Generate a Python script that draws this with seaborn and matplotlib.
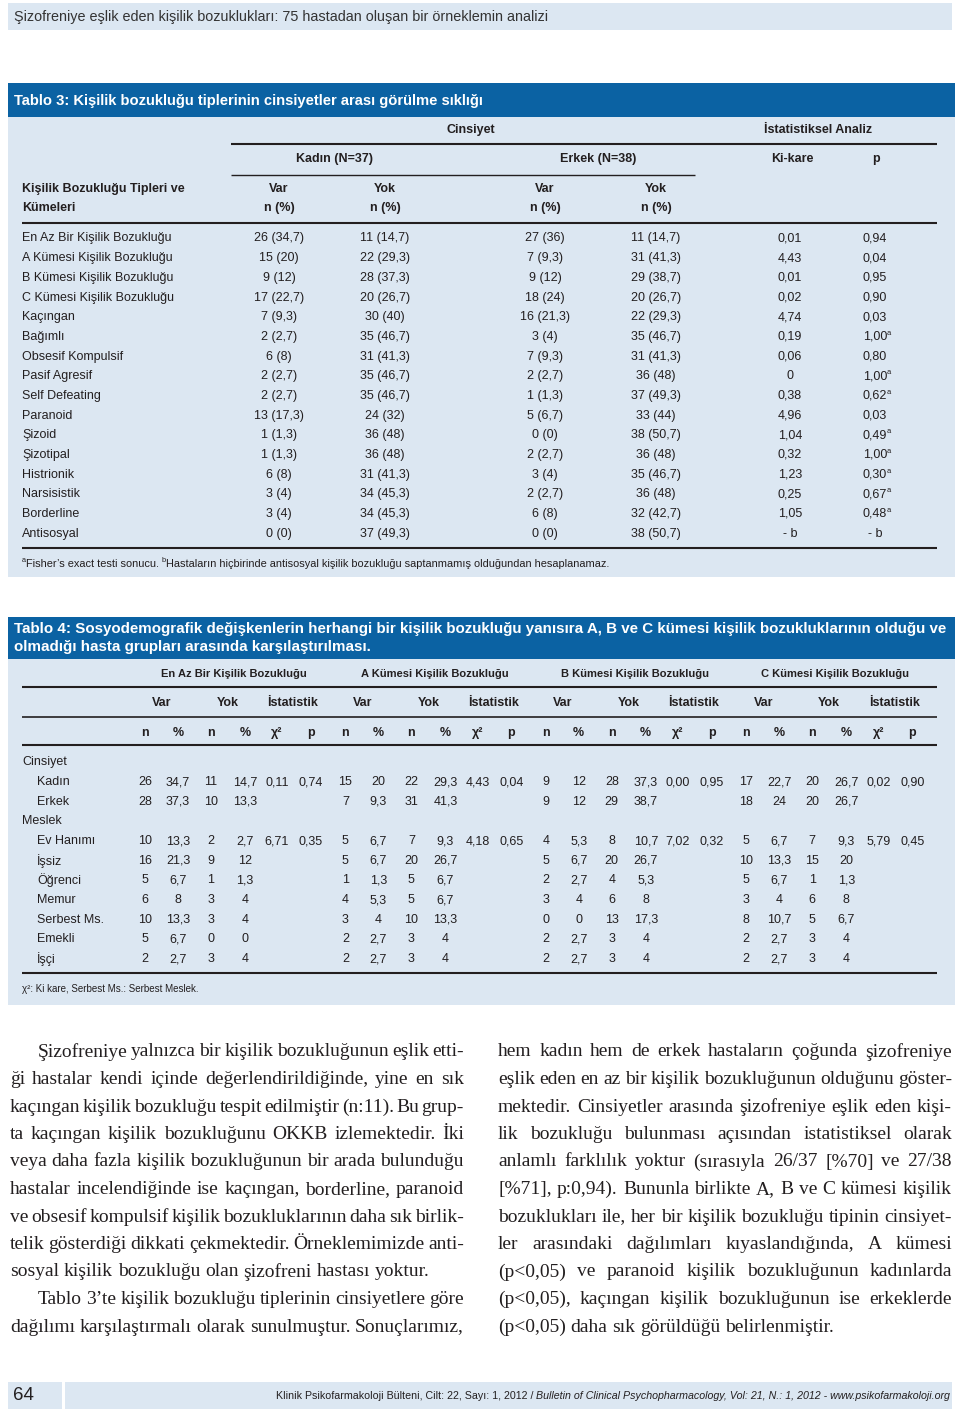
import matplotlib
matplotlib.use("Agg")
import matplotlib.pyplot as plt
import seaborn as sns
import pandas as pd
from matplotlib import font_manager
from matplotlib.patches import Rectangle

# ---- Tablo 3 data ----
t3_types = ["En Az Bir Kişilik Bozukluğu", "A Kümesi Kişilik Bozukluğu", "B Kümesi Kişilik Bozukluğu",
            "C Kümesi Kişilik Bozukluğu", "Kaçıngan", "Bağımlı", "Obsesif Kompulsif", "Pasif Agresif",
            "Self Defeating", "Paranoid", "Şizoid", "Şizotipal", "Histrionik", "Narsisistik",
            "Borderline", "Antisosyal"]
kadin_var_n = [26, 15, 9, 17, 7, 2, 6, 2, 2, 13, 1, 1, 6, 3, 3, 0]
kadin_var_pct = [34.7, 20, 12, 22.7, 9.3, 2.7, 8, 2.7, 2.7, 17.3, 1.3, 1.3, 8, 4, 4, 0]
kadin_yok_n = [11, 22, 28, 20, 30, 35, 31, 35, 35, 24, 36, 36, 31, 34, 34, 37]
kadin_yok_pct = [14.7, 29.3, 37.3, 26.7, 40, 46.7, 41.3, 46.7, 46.7, 32, 48, 48, 41.3, 45.3, 45.3, 49.3]
erkek_var_n = [27, 7, 9, 18, 16, 3, 7, 2, 1, 5, 0, 2, 3, 2, 6, 0]
erkek_var_pct = [36, 9.3, 12, 24, 21.3, 4, 9.3, 2.7, 1.3, 6.7, 0, 2.7, 4, 2.7, 8, 0]
erkek_yok_n = [11, 31, 29, 20, 22, 35, 31, 36, 37, 33, 38, 36, 35, 36, 32, 38]
erkek_yok_pct = [14.7, 41.3, 38.7, 26.7, 29.3, 46.7, 41.3, 48, 49.3, 44, 50.7, 48, 46.7, 48, 42.7, 50.7]
t3_kikare = ["0,01", "4,43", "0,01", "0,02", "4,74", "0,19", "0,06", "0", "0,38", "4,96",
             "1,04", "0,32", "1,23", "0,25", "1,05", "- b"]
t3_p = ["0,94", "0,04", "0,95", "0,90", "0,03", "1,00", "0,80", "1,00", "0,62", "0,03",
        "0,49", "1,00", "0,30", "0,67", "0,48", "- b"]
t3_fisher = [False, False, False, False, False, True, False, True, True, False,
             True, True, True, True, True, False]

# ---- Tablo 4 data ----
t4_groups = ["En Az Bir Kişilik Bozukluğu", "A Kümesi Kişilik Bozukluğu",
             "B Kümesi Kişilik Bozukluğu", "C Kümesi Kişilik Bozukluğu"]
t4_rows = ["Kadın", "Erkek", "Ev Hanımı", "İşsiz", "Öğrenci", "Memur", "Serbest Ms.", "Emekli", "İşçi"]
enaz_var_n = [26, 28, 10, 16, 5, 6, 10, 5, 2]
enaz_var_pct = [34.7, 37.3, 13.3, 21.3, 6.7, 8, 13.3, 6.7, 2.7]
enaz_yok_n = [11, 10, 2, 9, 1, 3, 3, 0, 3]
enaz_yok_pct = [14.7, 13.3, 2.7, 12, 1.3, 4, 4, 0, 4]
enaz_chi2 = ["0,11", "", "6,71", "", "", "", "", "", ""]
enaz_p = ["0,74", "", "0,35", "", "", "", "", "", ""]
a_var_n = [15, 7, 5, 5, 1, 4, 3, 2, 2]
a_var_pct = [20, 9.3, 6.7, 6.7, 1.3, 5.3, 4, 2.7, 2.7]
a_yok_n = [22, 31, 7, 20, 5, 5, 10, 3, 3]
a_yok_pct = [29.3, 41.3, 9.3, 26.7, 6.7, 6.7, 13.3, 4, 4]
a_chi2 = ["4,43", "", "4,18", "", "", "", "", "", ""]
a_p = ["0,04", "", "0,65", "", "", "", "", "", ""]
b_var_n = [9, 9, 4, 5, 2, 3, 0, 2, 2]
b_var_pct = [12, 12, 5.3, 6.7, 2.7, 4, 0, 2.7, 2.7]
b_yok_n = [28, 29, 8, 20, 4, 6, 13, 3, 3]
b_yok_pct = [37.3, 38.7, 10.7, 26.7, 5.3, 8, 17.3, 4, 4]
b_chi2 = ["0,00", "", "7,02", "", "", "", "", "", ""]
b_p = ["0,95", "", "0,32", "", "", "", "", "", ""]
c_var_n = [17, 18, 5, 10, 5, 3, 8, 2, 2]
c_var_pct = [22.7, 24, 6.7, 13.3, 6.7, 4, 10.7, 2.7, 2.7]
c_yok_n = [20, 20, 7, 15, 1, 6, 5, 3, 3]
c_yok_pct = [26.7, 26.7, 9.3, 20, 1.3, 8, 6.7, 4, 4]
c_chi2 = ["0,02", "", "5,79", "", "", "", "", "", ""]
c_p = ["0,90", "", "0,45", "", "", "", "", "", ""]

# ---- body text ----
body_left = [
    "Şizofreniye yalnızca bir kişilik bozukluğunun eşlik etti-",
    "ği hastalar kendi içinde değerlendirildiğinde, yine en sık",
    "kaçıngan kişilik bozukluğu tespit edilmiştir (n:11). Bu grup-",
    "ta kaçıngan kişilik bozukluğunu OKKB izlemektedir. İki",
    "veya daha fazla kişilik bozukluğunun bir arada bulunduğu",
    "hastalar incelendiğinde ise kaçıngan, borderline, paranoid",
    "ve obsesif kompulsif kişilik bozukluklarının daha sık birlik-",
    "telik gösterdiği dikkati çekmektedir. Örneklemimizde anti-",
    "sosyal kişilik bozukluğu olan şizofreni hastası yoktur.",
    "Tablo 3’te kişilik bozukluğu tiplerinin cinsiyetlere göre",
    "dağılımı karşılaştırmalı olarak sunulmuştur. Sonuçlarımız,",
]
body_right = [
    "hem kadın hem de erkek hastaların çoğunda şizofreniye",
    "eşlik eden en az bir kişilik bozukluğunun olduğunu göster-",
    "mektedir. Cinsiyetler arasında şizofreniye eşlik eden kişi-",
    "lik bozukluğu bulunması açısından istatistiksel olarak",
    "anlamlı farklılık yoktur (sırasıyla 26/37 [%70] ve 27/38",
    "[%71], p:0,94). Bununla birlikte A, B ve C kümesi kişilik",
    "bozuklukları ile, her bir kişilik bozukluğu tipinin cinsiyet-",
    "ler arasındaki dağılımları kıyaslandığında, A kümesi",
    "(p<0,05) ve paranoid kişilik bozukluğunun kadınlarda",
    "(p<0,05), kaçıngan kişilik bozukluğunun ise erkeklerde",
    "(p<0,05) daha sık görüldüğü belirlenmiştir.",
]

sns.set_theme(style="white")
names = {f.name for f in font_manager.fontManager.ttflist}
NARROW = "Liberation Sans Narrow" in names
SANS = ["Liberation Sans Narrow" if NARROW else "Liberation Sans", "DejaVu Sans"]
REG = ["Liberation Sans", "DejaVu Sans"]
SERIF = ["Liberation Serif", "DejaVu Serif"]
plt.rcParams["font.family"] = SANS

BAR = "#0b62a3"
PALE = "#dce7f2"
INK = "#231f20"


def fmt(v):
    return str(int(v)) if float(v).is_integer() else f"{v:.1f}".replace(".", ",")


fig = plt.figure(figsize=(9.6, 14.13), dpi=100)
ax = fig.add_axes([0, 0, 1, 1])
ax.set_xlim(0, 960)
ax.set_ylim(1413, 0)
ax.axis("off")
renderer = fig.canvas.get_renderer()


def wid(t):
    return t.get_window_extent(renderer).width


# table font size: make a row label as wide as in the reference
_probe = ax.text(0, 0, "En Az Bir Kişilik Bozukluğu", fontsize=10, family=SANS)
TS = 10 * 149 / wid(_probe)
_probe.remove()


def put(x, y, s, size=None, weight="normal", style="normal", color=INK, ha="left", family=None, va="center"):
    return ax.text(x, y, s, fontsize=size or TS, fontweight=weight, fontstyle=style, color=color,
                   ha=ha, va=va, family=family or SANS)


def fit(x, y, s, target, size0=10, **kw):
    t = put(x, y, s, size0, **kw)
    t.set_fontsize(size0 * target / wid(t))
    return t


def box(x, y, w, h, c):
    ax.add_patch(Rectangle((x, y), w, h, color=c, lw=0))


def hline(y, x0, x1, lw=1.5):
    ax.plot([x0, x1], [y, y], color=INK, lw=lw, solid_capstyle="butt")


def runs(x, y, pieces, target):
    ts = []
    for s, sup in pieces:
        ts.append((put(x, y, s, size=TS * (0.6 if sup else 0.9)), sup))
    total = sum(wid(t) for t, _ in ts)
    k = target / total
    for t, sup in ts:
        t.set_fontsize(t.get_fontsize() * k)
        t.set_x(x)
        if sup:
            t.set_y(y - 3.5)
        x += wid(t)


# ---- running header ----
box(8, 3, 944, 27, PALE)
fit(14, 17, "Şizofreniye eşlik eden kişilik bozuklukları: 75 hastadan oluşan bir örneklemin analizi",
    533, family=REG, color="#333333")

# ---- Tablo 3 ----
box(8, 83, 947, 34, BAR)
box(8, 117, 947, 460, PALE)
fit(14, 101, "Tablo 3: Kişilik bozukluğu tiplerinin cinsiyetler arası görülme sıklığı", 471,
    weight="bold", color="white")
put(471, 130, "Cinsiyet", weight="bold", ha="center")
put(818, 130, "İstatistiksel Analiz", weight="bold", ha="center")
hline(144, 231, 937)
put(334, 159, "Kadın (N=37)", weight="bold", ha="center")
put(598, 159, "Erkek (N=38)", weight="bold", ha="center")
put(792, 159, "Ki-kare", weight="bold", ha="center")
put(876, 159, "p", weight="bold", ha="center")
hline(175, 231, 695, lw=1.0)
put(22, 189, "Kişilik Bozukluğu Tipleri ve", weight="bold")
put(22, 208, "Kümeleri", weight="bold")
t3_cols = [279, 385, 545, 656]
for cx, lab in zip(t3_cols, ["Var", "Yok", "Var", "Yok"]):
    put(cx, 189, lab, weight="bold", ha="center")
    put(cx, 208, "n (%)", weight="bold", ha="center")
hline(223, 22, 937)

t3 = pd.DataFrame({"tip": t3_types,
                   "kv": [f"{n} ({fmt(p)})" for n, p in zip(kadin_var_n, kadin_var_pct)],
                   "ky": [f"{n} ({fmt(p)})" for n, p in zip(kadin_yok_n, kadin_yok_pct)],
                   "ev": [f"{n} ({fmt(p)})" for n, p in zip(erkek_var_n, erkek_var_pct)],
                   "ey": [f"{n} ({fmt(p)})" for n, p in zip(erkek_yok_n, erkek_yok_pct)],
                   "chi": t3_kikare, "p": t3_p, "fisher": t3_fisher})
for i, r in t3.iterrows():
    y = 238.5 + 19.67 * i
    put(22, y, r["tip"])
    for cx, key in zip(t3_cols, ["kv", "ky", "ev", "ey"]):
        put(cx, y, r[key], ha="center")
    put(790, y, r["chi"], ha="center")
    tp = put(875, y, r["p"], ha="center")
    if r["fisher"]:
        put(875 + wid(tp) / 2 - 0.5, y - 3.5, "a", size=TS * 0.6)
hline(548, 22, 937)

runs(22, 564, [("a", True), ("Fisher’s exact testi sonucu.", False), (" ", False), ("b", True),
               ("Hastaların hiçbirinde antisosyal kişilik bozukluğu saptanmamış olduğundan hesaplanamaz.", False)],
     587)

# ---- Tablo 4 ----
box(8, 617, 947, 42, BAR)
box(8, 659, 947, 346, PALE)
t1 = fit(14, 629, "Tablo 4: Sosyodemografik değişkenlerin herhangi bir kişilik bozukluğu yanısıra A, B ve C "
         "kümesi kişilik bozukluklarının olduğu ve", 932, weight="bold", color="white")
put(14, 647, "olmadığı hasta grupları arasında karşılaştırılması.", size=t1.get_fontsize(),
    weight="bold", color="white")

GSTEP = 200.4
sub_x = [145, 178, 211, 245, 277, 311]
groups = [
    (enaz_var_n, enaz_var_pct, enaz_yok_n, enaz_yok_pct, enaz_chi2, enaz_p),
    (a_var_n, a_var_pct, a_yok_n, a_yok_pct, a_chi2, a_p),
    (b_var_n, b_var_pct, b_yok_n, b_yok_pct, b_chi2, b_p),
    (c_var_n, c_var_pct, c_yok_n, c_yok_pct, c_chi2, c_p),
]
_probe = put(0, 0, t4_groups[0], weight="bold")
GH = TS * 145 / wid(_probe)
_probe.remove()
for g, name in enumerate(t4_groups):
    off = GSTEP * g
    put(234 + off, 674, name, size=GH, weight="bold", ha="center")
    for cx, lab in zip([162, 228, 293], ["Var", "Yok", "İstatistik"]):
        put(cx + off, 703, lab, weight="bold", ha="center")
    for cx, lab in zip(sub_x, ["n", "%", "n", "%", "χ²", "p"]):
        put(cx + off, 733, lab, weight="bold", ha="center")
hline(687, 22, 937)
hline(717, 22, 937, lw=1.2)
hline(745, 22, 937)

row_y = {}
layout = ["Cinsiyet", "Kadın", "Erkek", "Meslek"] + t4_rows[2:]
for i, lab in enumerate(layout):
    y = 762.5 + 19.65 * i
    if lab in ("Cinsiyet", "Meslek"):
        put(22, y, lab)
    else:
        put(37, y, lab)
        row_y[lab] = y
for g, (vn, vp, yn, yp, chi, pv) in enumerate(groups):
    off = GSTEP * g
    for j, lab in enumerate(t4_rows):
        y = row_y[lab]
        vals = [str(vn[j]), fmt(vp[j]), str(yn[j]), fmt(yp[j]), chi[j], pv[j]]
        for cx, s in zip(sub_x, vals):
            if s:
                put(cx + off, y, s, ha="center")
hline(973, 22, 937)
fit(22, 989, "χ²: Ki kare, Serbest Ms.: Serbest Meslek.", 178)

# ---- body text (justified two columns) ----
def measure(words, size):
    out = []
    for w in words:
        t = ax.text(0, 0, w, fontsize=size, family=SERIF)
        out.append(wid(t))
        t.remove()
    return out


COLW = 454
base = 12.0
scale = 1.2
for lines, indents in ((body_left, {0: 28, 9: 28}), (body_right, {})):
    for k, line in enumerate(lines):
        words = line.split()
        ws = measure(words, base)
        space = 0.25 * base * 100 / 72
        need = sum(ws) + 0.55 * space * (len(words) - 1)
        scale = min(scale, (COLW - indents.get(k, 0)) / need)
BODY = base * scale


def set_line(line, x0, x1, y, justify):
    words = line.split()
    ts = [ax.text(0, y, w, fontsize=BODY, family=SERIF, color=INK, va="center") for w in words]
    ws = [wid(t) for t in ts]
    gap = (x1 - x0 - sum(ws)) / (len(words) - 1) if justify else 0.25 * BODY * 100 / 72
    x = x0
    for t, w in zip(ts, ws):
        t.set_x(x)
        x += w + gap


for k, line in enumerate(body_left):
    x0 = 38 if k in (0, 9) else 10
    set_line(line, x0, 464, 1052 + 27.5 * k, justify=(k != 8))
for k, line in enumerate(body_right):
    set_line(line, 498, 952, 1052 + 27.5 * k, justify=(k != 10))

# ---- footer ----
box(8, 1382, 54, 27, PALE)
box(65, 1382, 887, 27, PALE)
put(13, 1395, "64", size=13.5, family=REG)
fa = put(0, 1396, "Klinik Psikofarmakoloji Bülteni, Cilt: 22, Sayı: 1, 2012 /", size=8, family=REG)
fb = put(0, 1396, "Bulletin of Clinical Psychopharmacology, Vol: 21, N.: 1, 2012 - www.psikofarmakoloji.org",
         size=8, style="italic", family=REG)
k = 673 / (wid(fa) + wid(fb) + 3)
fa.set_fontsize(8 * k)
fb.set_fontsize(8 * k)
wb = wid(fb)
fb.set_x(950 - wb)
fa.set_x(950 - wb - 3 * k - wid(fa))

fig.savefig("out.png", dpi=100)
